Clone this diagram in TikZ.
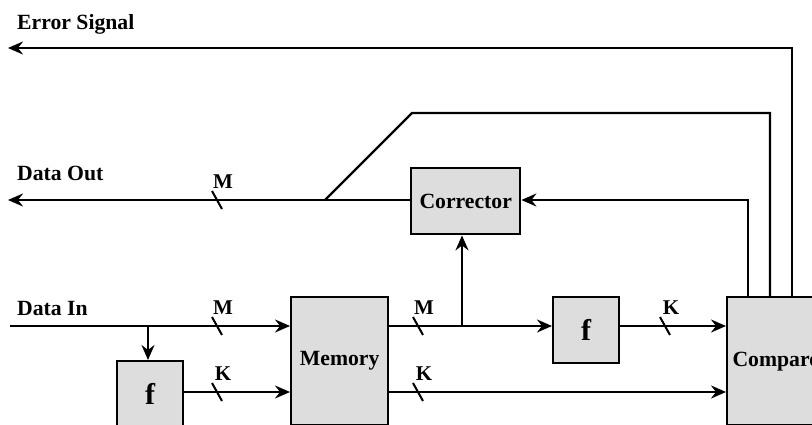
\documentclass[tikz,border=0pt]{standalone}
\usepackage{fontspec}
\setmainfont{Liberation Serif}
\usetikzlibrary{arrows.meta,calc}
\definecolor{boxgray}{RGB}{221,221,221}
\begin{document}
\begin{tikzpicture}[x=1pt,y=-1pt,
  box/.style={draw,line width=2.4pt,fill=boxgray,inner sep=0pt,anchor=north west,
    font=\bfseries\fontsize{21.7}{23}\selectfont},
  fbox/.style={box,font=\bfseries\fontsize{30}{32}\selectfont},
  wire/.style={line width=2.2pt},
  arr/.style={wire,-{Stealth[length=15pt,width=13pt,inset=5pt]}},
  lbl/.style={font=\bfseries\fontsize{21.7}{23}\selectfont,inner sep=0pt,anchor=base west},
  tlbl/.style={font=\bfseries\fontsize{21}{23}\selectfont,inner sep=0pt,anchor=base},
  tickmark/.style={line width=2pt}]
\useasboundingbox (0,0) rectangle (812,424);
\clip (0,0) rectangle (812,424);

% blocks
\node[box,minimum width=109pt,minimum height=66pt] (corr) at (410,167) {Corrector};
\node[box,minimum width=97pt,minimum height=128pt] (mem) at (290,296) {Memory};
\node[fbox,minimum width=66pt,minimum height=66pt] (f1) at (116,360) {f};
\node[fbox,minimum width=66pt,minimum height=66pt] (f2) at (552,296) {f};
\node[box,minimum width=97pt,minimum height=128pt] (cmp) at (726,296) {Compare};

% free ends and taps
\coordinate (esout) at (8,48);
\coordinate (doout) at (8,200);
\coordinate (din) at (10,326);
\coordinate (brk) at (325,200);
\coordinate (bend) at (412,113);
\coordinate (c1) at (748,296);
\coordinate (c2) at (770,296);
\coordinate (c3) at (792,296);
\coordinate (split) at (148,326);
\coordinate (tap) at (462,326);
\coordinate (low) at (0,392);

% text labels
\node[lbl] (tes) at (17,29) {Error Signal};
\node[lbl] (tdo) at (17,180) {Data Out};
\node[lbl] (tdi) at (17,315) {Data In};

% error signal
\draw[arr] (c3) -- (c3 |- esout) -- (esout);
% compare to data out (bypass)
\draw[wire] (c2) -- (c2 |- bend) -- (bend) -- (brk);
% data out
\draw[arr] (corr.west |- doout) -- (doout);
% compare to corrector
\draw[arr] (c1) -- (c1 |- doout) -- (corr.east |- doout);
% data in
\draw[arr] (din) -- (mem.west |- din);
\draw[arr] (split) -- (split |- f1.north);
\draw[arr] (f1.east |- low) -- (mem.west |- low);
% memory outputs
\draw[arr] (mem.east |- tap) -- (f2.west |- tap);
\draw[arr] (tap) -- (tap |- corr.south);
\draw[arr] (f2.east |- tap) -- (cmp.west |- tap);
\draw[arr] (mem.east |- low) -- (cmp.west |- low);

% bus width ticks
\foreach \x/\y/\t [count=\i] in {217/200/M, 217/326/M, 217/392/K, 418/326/M, 418/392/K, 665/326/K}{
  \draw[tickmark] (\x-5,\y-9) -- (\x+5,\y+9);
  \node[tlbl] (bw\i) at (\x+6,\y-12) {\t};
}
\end{tikzpicture}
\end{document}
